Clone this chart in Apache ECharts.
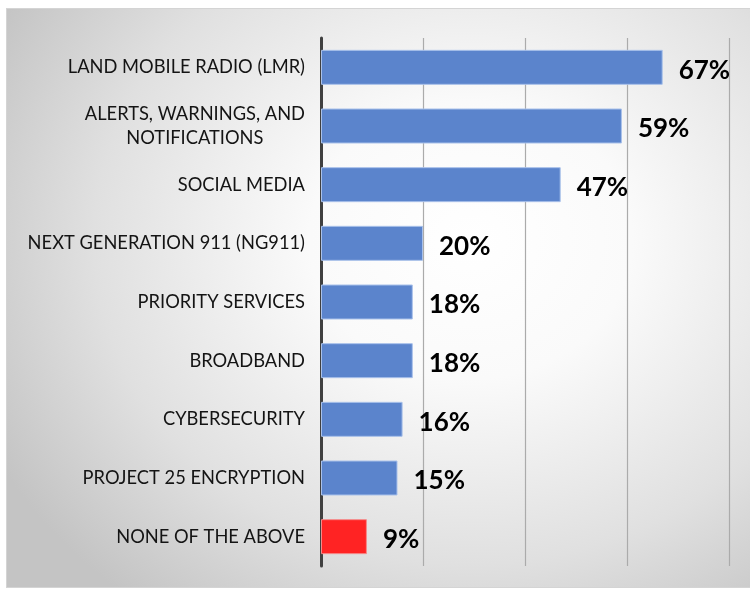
<!DOCTYPE html>
<html>
<head>
<meta charset="utf-8">
<script src="https://cdn.jsdelivr.net/npm/echarts@6/dist/echarts.min.js"></script>
<style>
  html, body { margin: 0; padding: 0; background: #ffffff; }
  #bg {
    position: absolute; left: 6px; top: 8px; width: 750px; height: 580px;
    box-sizing: border-box; border: 1px solid #d4d4d4;
    background: radial-gradient(ellipse 72% 80% at 62% 40%, #ffffff 0%, #fafafa 30%, #e0e0e0 70%, #c4c4c4 100%);
  }
  #chart { position: absolute; left: 0; top: 0; width: 750px; height: 592px; }
</style>
</head>
<body>
<div id="bg"></div>
<div id="chart"></div>
<script>
const categories = [
  'LAND MOBILE RADIO (LMR)',
  'ALERTS, WARNINGS, AND\nNOTIFICATIONS',
  'SOCIAL MEDIA',
  'NEXT GENERATION 911 (NG911)',
  'PRIORITY SERVICES',
  'BROADBAND',
  'CYBERSECURITY',
  'PROJECT 25 ENCRYPTION',
  'NONE OF THE ABOVE'
];
const values = [67, 59, 47, 20, 18, 18, 16, 15, 9];
const highlighted = ['NONE OF THE ABOVE'];
const xTicks = [0, 20, 40, 60, 80];

const chart = echarts.init(document.getElementById('chart'), null, { renderer: 'canvas' });

const seriesData = values.map((v, i) => {
  const hi = highlighted.includes(categories[i]);
  return {
    value: v,
    itemStyle: hi
      ? { color: '#ff2323', borderColor: '#f58a8a', borderWidth: 1 }
      : { color: '#5b84cc', borderColor: '#a9c1ea', borderWidth: 1 }
  };
});

chart.setOption({
  backgroundColor: 'transparent',
  animation: false,
  grid: { left: 321, right: 21, top: 38, bottom: 26, containLabel: false },
  xAxis: {
    type: 'value',
    min: xTicks[0],
    max: xTicks[xTicks.length - 1],
    interval: xTicks[1] - xTicks[0],
    axisLabel: { show: false },
    axisLine: { show: false },
    axisTick: { show: false },
    splitLine: { show: true, lineStyle: { color: '#ababab', width: 1.2 } }
  },
  yAxis: {
    type: 'category',
    data: categories,
    inverse: true,
    axisLine: { show: true, lineStyle: { color: '#404040', width: 3 } },
    axisTick: { show: false },
    axisLabel: {
      margin: 16,
      formatter: function (val) {
        return val.split('\n').map(s => '{a|' + s + '}').join('\n');
      },
      rich: {
        a: { fontFamily: 'Lato', fontSize: 18.3, color: '#141414', align: 'center', lineHeight: 24 }
      }
    }
  },
  series: [{
    type: 'bar',
    data: seriesData,
    barWidth: 35,
    label: {
      show: true,
      position: 'right',
      distance: 16,
      offset: [0, 3],
      formatter: '{c}%',
      fontFamily: 'Lato',
      fontWeight: 'bold',
      fontSize: 26,
      color: '#000000'
    }
  }]
});
</script>
</body>
</html>
